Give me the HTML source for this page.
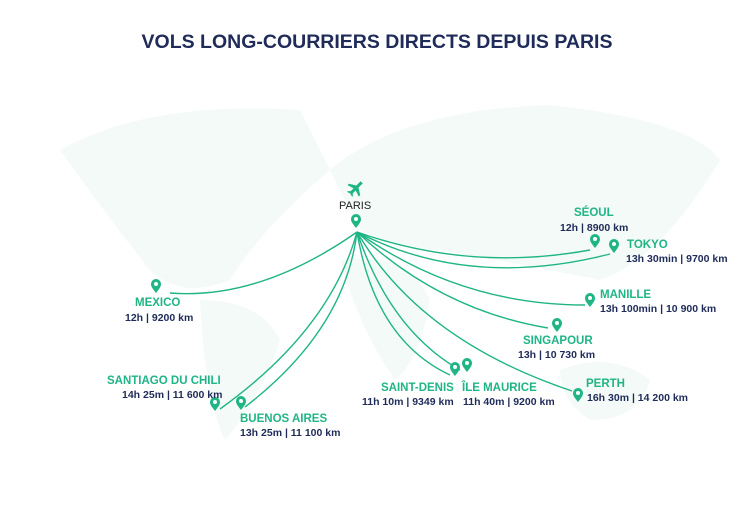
<!DOCTYPE html>
<html><head><meta charset="utf-8"><style>
body{margin:0;width:750px;height:514px;background:#fff;overflow:hidden;font-family:"Liberation Sans",Arial,sans-serif;}
.t{position:absolute;white-space:nowrap;font-weight:bold;}
.g{color:#1fb585;font-size:11.5px;}
.n{color:#1f2b59;font-size:10.5px;}
</style></head><body>
<div class="t" style="left:2px;width:750px;top:31px;text-align:center;font-size:19.5px;color:#1f2b59;">VOLS LONG-COURRIERS DIRECTS DEPUIS PARIS</div>
<svg width="750" height="514" style="position:absolute;left:0;top:0">
<defs><g id="pin"><path d="M0,7 C-3,3 -5,1 -5,-2 A5,5 0 1 1 5,-2 C5,1 3,3 0,7Z" fill="#1fb585"/><circle cx="0" cy="-2" r="2" fill="#fff"/></g></defs>
<g fill="#f4faf7">
<path d="M60,150 Q150,100 300,110 L330,170 Q260,230 230,280 Q180,300 150,270 Q110,220 60,150Z"/>
<path d="M200,300 Q260,300 280,340 Q260,400 225,440 Q205,400 200,300Z"/>
<path d="M330,170 Q400,110 550,105 Q690,120 720,160 Q660,260 600,280 Q500,260 440,250 Q400,250 360,230Z"/>
<path d="M340,260 Q410,250 430,300 Q420,360 395,380 Q360,330 340,260Z"/>
<path d="M560,370 Q610,350 650,380 Q640,420 590,420 Q560,400 560,370Z"/>
</g>
<g fill="none" stroke="#1fb585" stroke-width="1.4">
<path d="M357,232 Q260,300 170,293"/>
<path d="M357,232 Q470,272 590,250"/>
<path d="M357,232 Q470,290 610,254"/>
<path d="M357,232 Q460,305 585,305"/>
<path d="M357,232 Q440,310 548,328"/>
<path d="M357,232 Q420,340 572,391"/>
<path d="M357,232 Q375,340 450,375"/>
<path d="M357,232 Q390,330 460,370"/>
<path d="M357,232 Q330,330 220,409"/>
<path d="M357,232 Q345,330 245,407"/>
</g>
<use href="#pin" x="356" y="221"/><use href="#pin" x="156" y="286"/><use href="#pin" x="595" y="241"/>
<use href="#pin" x="614" y="246"/><use href="#pin" x="590" y="300"/><use href="#pin" x="557" y="325"/>
<use href="#pin" x="455" y="369"/><use href="#pin" x="467" y="365"/><use href="#pin" x="578" y="395"/>
<use href="#pin" x="215" y="404"/><use href="#pin" x="241" y="403"/>
<g transform="translate(356,188) rotate(45)" fill="#1fb585"><path d="M-1.5,-8 L1.5,-8 L1.5,-2 L8,2 L8,4 L1.5,2 L1.5,6 L3.5,8 L3.5,9 L0,8 L-3.5,9 L-3.5,8 L-1.5,6 L-1.5,2 L-8,4 L-8,2 L-1.5,-2Z"/></g>
</svg>
<div class="t" style="left:339px;top:200px;font-size:11px;color:#222;font-weight:normal">PARIS</div>
<div class="t g" style="left:135px;top:297px">MEXICO</div><div class="t n" style="left:125px;top:312px">12h | 9200 km</div>
<div class="t g" style="left:574px;top:207px">SÉOUL</div><div class="t n" style="left:560px;top:222px">12h | 8900 km</div>
<div class="t g" style="left:627px;top:239px">TOKYO</div><div class="t n" style="left:626px;top:253px">13h 30min | 9700 km</div>
<div class="t g" style="left:600px;top:289px">MANILLE</div><div class="t n" style="left:600px;top:303px">13h 100min | 10 900 km</div>
<div class="t g" style="left:523px;top:335px">SINGAPOUR</div><div class="t n" style="left:518px;top:349px">13h | 10 730 km</div>
<div class="t g" style="left:381px;top:382px">SAINT-DENIS</div><div class="t n" style="left:362px;top:396px">11h 10m | 9349 km</div>
<div class="t g" style="left:462px;top:382px">ÎLE MAURICE</div><div class="t n" style="left:463px;top:396px">11h 40m | 9200 km</div>
<div class="t g" style="left:586px;top:378px">PERTH</div><div class="t n" style="left:587px;top:392px">16h 30m | 14 200 km</div>
<div class="t g" style="left:107px;top:375px">SANTIAGO DU CHILI</div><div class="t n" style="left:122px;top:389px">14h 25m | 11 600 km</div>
<div class="t g" style="left:240px;top:413px">BUENOS AIRES</div><div class="t n" style="left:240px;top:427px">13h 25m | 11 100 km</div>
</body></html>
